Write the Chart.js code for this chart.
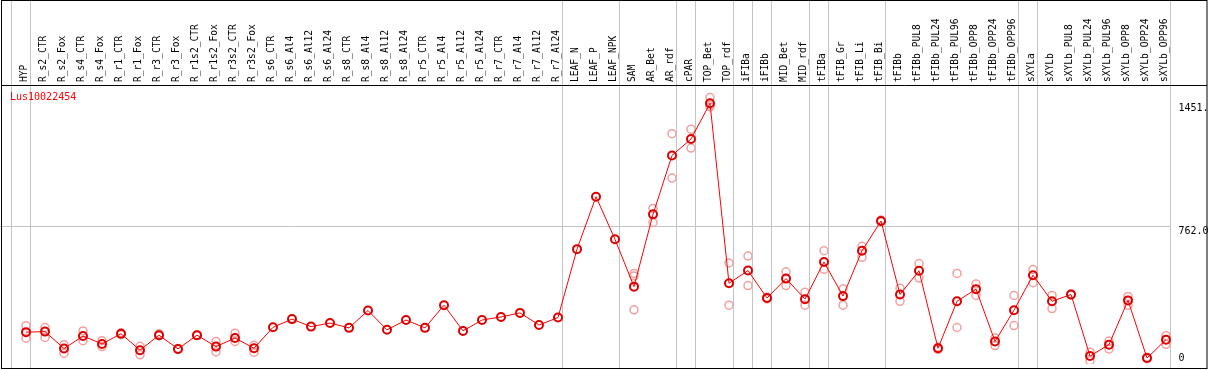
<!DOCTYPE html>
<html lang="en">
<head>
<meta charset="UTF-8">
<title>Lus10022454</title>
<script src="https://cdn.jsdelivr.net/npm/chart.js"></script>
<style>
  html, body { margin: 0; padding: 0; background: #fff; }
</style>
</head>
<body>
<canvas id="expr" width="1209" height="370"></canvas>
<script>
const samples = ['HYP', 'R_s2_CTR', 'R_s2_Fox', 'R_s4_CTR', 'R_s4_Fox', 'R_r1_CTR', 'R_r1_Fox',
  'R_r3_CTR', 'R_r3_Fox', 'R_r1s2_CTR', 'R_r1s2_Fox', 'R_r3s2_CTR', 'R_r3s2_Fox', 'R_s6_CTR',
  'R_s6_Al4', 'R_s6_Al12', 'R_s6_Al24', 'R_s8_CTR', 'R_s8_Al4', 'R_s8_Al12', 'R_s8_Al24',
  'R_r5_CTR', 'R_r5_Al4', 'R_r5_Al12', 'R_r5_Al24', 'R_r7_CTR', 'R_r7_Al4', 'R_r7_Al12', 'R_r7_Al24',
  'LEAF_N', 'LEAF_P', 'LEAF_NPK', 'SAM', 'AR_Bet', 'AR_rdf', 'cPAR', 'TOP_Bet', 'TOP_rdf',
  'iFIBa', 'iFIBb', 'MID_Bet', 'MID_rdf', 'tFIBa', 'tFIB_Gr', 'tFIB_Li', 'tFIB_Bi', 'tFIBb',
  'tFIBb_PUL8', 'tFIBb_PUL24', 'tFIBb_PUL96', 'tFIBb_OPP8', 'tFIBb_OPP24', 'tFIBb_OPP96',
  'sXYLa', 'sXYLb', 'sXYLb_PUL8', 'sXYLb_PUL24', 'sXYLb_PUL96', 'sXYLb_OPP8', 'sXYLb_OPP24', 'sXYLb_OPP96'];

// mean expression per sample
const means = [169, 172, 77, 147, 103, 160, 68, 152, 75, 152, 88, 136, 79, 196,
  242, 200, 220, 193, 290, 182, 237,
  193, 320, 176, 237, 254, 277, 209, 251,
  634, 928, 689, 424, 829, 1159, 1251, 1451, 443,
  514, 360, 469, 354, 562, 371, 625, 792, 380,
  513, 79, 342, 410, 117, 292,
  488, 342, 380, 35, 99, 347, 24, 127];

// replicates (null = no separate replicate shown)
const repHigh = [205, 195, 99, 176, 121, 165, 90, 160, 78, 155, 117, 163, 95, null,
  null, null, null, null, null, null, null,
  null, null, null, null, null, null, null, null,
  null, null, null, 498, 862, 1281, 1306, 1483, 557,
  595, 365, 507, 393, 625, 411, 650, 797, 415,
  553, 85, 498, 439, 136, 375,
  520, 375, 383, 57, 119, 369, 28, 149];

const repLow = [135, 139, 51, 121, 88, 155, 42, 149, 72, 150, 58, 117, 57, null,
  null, null, null, null, null, null, null,
  null, null, null, null, null, null, null, null,
  null, null, null, 483, 784, 1032, 1200, 1431, 320,
  430, 355, 430, 320, 521, 320, 588, 788, 342,
  472, 73, 195, 375, 94, 206,
  446, 301, 377, 9, 75, 320, 20, 101];

const repExtra = samples.map(s => s === 'SAM' ? 294 : s === 'TOP_Bet' ? 1440 : null);

// sample index after which a group separator is drawn
const groupEnds = [-1, 0, 28, 31, 34, 35, 37, 38, 39, 41, 42, 45, 52, 53, 60];

const yTicks = [0, 762, 1451];
const yTickText = ['0', '762.0', '1451.'];
const geneId = 'Lus10022454';

const toPoints = arr => arr.map((v, i) => ({ x: i, y: v })).filter(p => p.y !== null);

const repStyle = {
  showLine: false,
  pointRadius: 4,
  pointBorderWidth: 1.5,
  pointBorderColor: '#f2a0a0',
  pointBackgroundColor: 'rgba(0,0,0,0)',
  order: 2
};

const MONO = '"DejaVu Sans Mono", "Liberation Mono", monospace';

const framePlugin = {
  id: 'frame',
  beforeDatasetsDraw(chart) {
    const { ctx, scales: { x, y } } = chart;
    ctx.save();
    ctx.strokeStyle = '#c4c4c4';
    ctx.lineWidth = 1;
    ctx.beginPath();
    groupEnds.forEach(i => {
      const px = Math.round(x.getPixelForValue(i + 0.21)) + 0.5;
      ctx.moveTo(px, 0);
      ctx.lineTo(px, 368);
    });
    const gy = Math.round(y.getPixelForValue(762)) + 0.5;
    ctx.moveTo(0, gy);
    ctx.lineTo(x.getPixelForValue(60.21), gy);
    ctx.stroke();
    ctx.restore();
  },
  afterDatasetsDraw(chart) {
    const { ctx, scales: { x, y } } = chart;
    ctx.save();
    // frame
    ctx.strokeStyle = '#000';
    ctx.lineWidth = 1;
    ctx.strokeRect(1.5, 0.5, 1205.5, 368);
    ctx.beginPath();
    ctx.moveTo(1, 85.5);
    ctx.lineTo(1207, 85.5);
    ctx.stroke();

    // rotated sample labels
    ctx.fillStyle = '#000';
    ctx.font = '9.6px ' + MONO;
    ctx.textAlign = 'left';
    ctx.textBaseline = 'middle';
    samples.forEach((s, i) => {
      ctx.save();
      ctx.translate(x.getPixelForValue(i) - 2, 82);
      ctx.rotate(-Math.PI / 2);
      ctx.fillText(s, 0, 0);
      ctx.restore();
    });

    // gene id
    ctx.fillStyle = '#ff0000';
    ctx.font = '10px ' + MONO;
    ctx.textBaseline = 'top';
    ctx.fillText(geneId, 10, 92);

    // value labels on the right
    ctx.fillStyle = '#000';
    yTicks.forEach((v, k) => {
      const py = y.getPixelForValue(v);
      if (py > 355) {
        ctx.textBaseline = 'alphabetic';
        ctx.fillText(yTickText[k], 1178.5, py - 1);
      } else {
        ctx.textBaseline = 'top';
        ctx.fillText(yTickText[k], 1178.5, py);
      }
    });
    ctx.restore();
  }
};

new Chart(document.getElementById('expr'), {
  type: 'line',
  data: {
    datasets: [
      {
        label: 'mean',
        data: toPoints(means),
        borderColor: '#ff0000',
        borderWidth: 1,
        pointRadius: 4,
        pointBorderWidth: 2,
        pointBorderColor: '#dd0000',
        pointBackgroundColor: 'rgba(0,0,0,0)',
        tension: 0,
        order: 1
      },
      Object.assign({ label: 'rep1', data: toPoints(repHigh) }, repStyle),
      Object.assign({ label: 'rep2', data: toPoints(repLow) }, repStyle),
      Object.assign({ label: 'rep3', data: toPoints(repExtra) }, repStyle)
    ]
  },
  options: {
    responsive: false,
    animation: false,
    layout: { padding: { left: 7, right: 24, top: 86, bottom: 2 } },
    plugins: { legend: { display: false }, tooltip: { enabled: false } },
    scales: {
      x: { type: 'linear', min: -1, max: 61, display: false },
      y: { min: -9.4, max: 1548, display: false }
    }
  },
  plugins: [framePlugin]
});
</script>
</body>
</html>
